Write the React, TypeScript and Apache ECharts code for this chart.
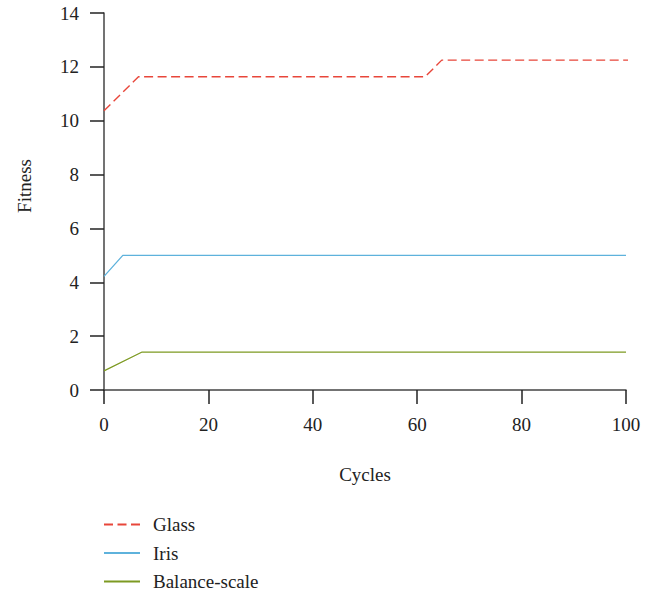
import React, { useEffect, useRef } from "react";
import * as echarts from "echarts";

const glassX = [0, 6.6, 61.5, 64.7, 101.4];
const glassY = [10.37, 11.63, 11.63, 12.25, 12.25];
const irisX = [0, 3.6, 100];
const irisY = [4.22, 5.0, 5.0];
const balanceX = [0, 7.3, 100];
const balanceY = [0.71, 1.41, 1.41];
const seriesNames = ["Glass", "Iris", "Balance-scale"];
const xTicks = { min: 0, max: 100, interval: 20 };
const yTicks = { min: 0, max: 14, interval: 2 };
const xName = "Cycles";
const yName = "Fitness";

const FONT = "Liberation Serif";
const zip = (xs: number[], ys: number[]) => xs.map((x, i) => [x, ys[i]]);

export default function App() {
  const ref = useRef<HTMLDivElement>(null);
  useEffect(() => {
    if (!ref.current) return;
    const chart = echarts.init(ref.current, undefined, { renderer: "svg" });
    const axisCommon = {
      axisLine: { show: true, lineStyle: { color: "#444", width: 1.5 } },
      axisTick: { show: true, inside: false, length: 14, lineStyle: { color: "#222", width: 1.5 } },
      splitLine: { show: false },
      nameTextStyle: { fontFamily: FONT, fontSize: 19, color: "#222" },
    };
    chart.setOption({
      animation: false,
      backgroundColor: "#fff",
      grid: { left: 104, right: 29, top: 13, bottom: 205, containLabel: false },
      xAxis: {
        type: "value",
        ...xTicks,
        ...axisCommon,
        name: xName,
        nameLocation: "middle",
        nameGap: 75,
        axisLabel: { fontFamily: FONT, fontSize: 19, color: "#222", margin: 25 },
      },
      yAxis: {
        type: "value",
        ...yTicks,
        ...axisCommon,
        axisLabel: { fontFamily: FONT, fontSize: 19, color: "#222", margin: 25 },
      },
      graphic: [
        {
          type: "text",
          x: 24,
          y: 186,
          rotation: Math.PI / 2,
          style: {
            text: yName,
            font: `19px "${FONT}"`,
            fill: "#222",
            align: "center",
            verticalAlign: "middle",
          },
        },
      ],
      legend: {
        orient: "vertical",
        left: 103,
        top: 515,
        padding: 0,
        itemWidth: 36,
        itemHeight: 14,
        itemGap: 9.5,
        itemStyle: { opacity: 0 },
        textStyle: { fontFamily: FONT, fontSize: 19, color: "#222", lineHeight: 19, padding: [0, 0, 0, 8] },
        data: seriesNames,
      },
      series: [
        {
          name: seriesNames[0],
          type: "line",
          symbol: "none",
          clip: false,
          data: zip(glassX, glassY),
          lineStyle: { color: "#e8463a", width: 1.4, type: [9, 4.5] },
          itemStyle: { color: "#e8463a" },
        },
        {
          name: seriesNames[1],
          type: "line",
          symbol: "none",
          data: zip(irisX, irisY),
          lineStyle: { color: "#5eb2dc", width: 1.3 },
          itemStyle: { color: "#5eb2dc" },
        },
        {
          name: seriesNames[2],
          type: "line",
          symbol: "none",
          data: zip(balanceX, balanceY),
          lineStyle: { color: "#7d9a22", width: 1.3 },
          itemStyle: { color: "#7d9a22" },
        },
      ],
    });
    return () => chart.dispose();
  }, []);
  return (
    <div
      ref={ref}
      style={{ position: "fixed", left: 0, top: 0, width: 655, height: 595, background: "#fff" }}
    />
  );
}
